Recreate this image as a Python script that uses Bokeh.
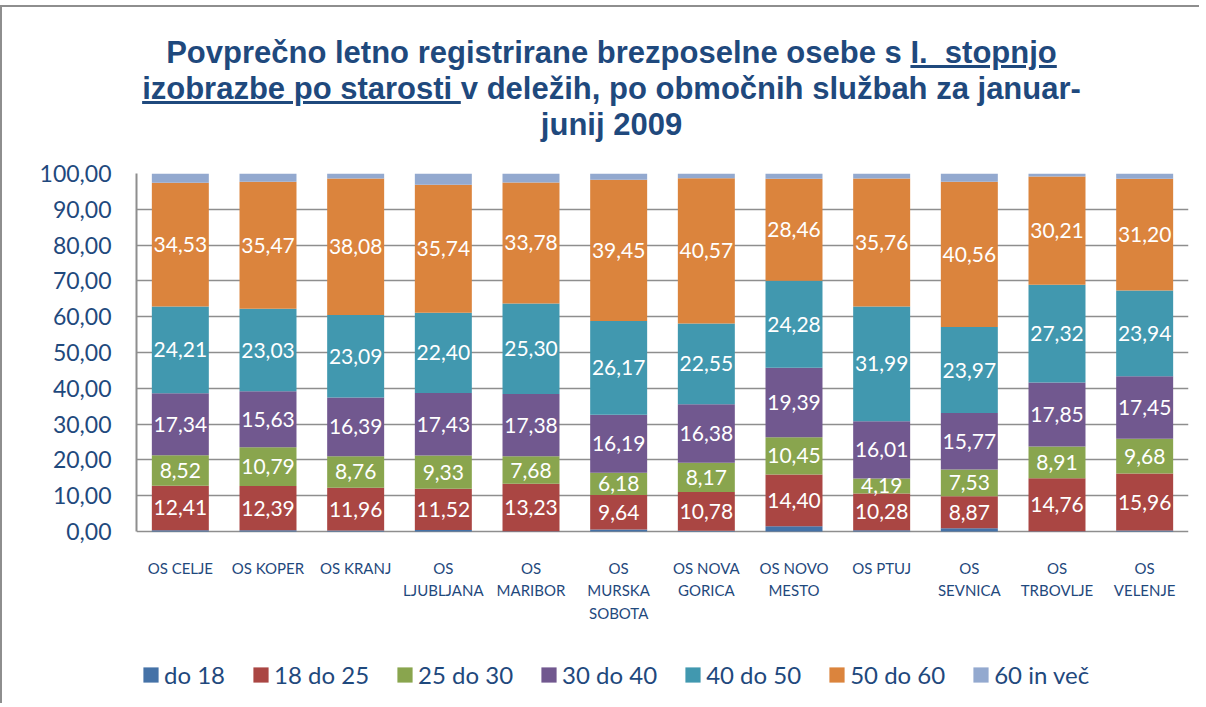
from bokeh.plotting import figure
from bokeh.models import (ColumnDataSource, FactorRange, LabelSet, Legend, LegendItem,
                          FixedTicker, Div, Range1d)
from bokeh.layouts import column
from bokeh.embed import file_html
from bokeh.resources import INLINE
from bokeh.core.properties import value

categories = ["OS CELJE", "OS KOPER", "OS KRANJ", "OS LJUBLJANA", "OS MARIBOR",
              "OS MURSKA SOBOTA", "OS NOVA GORICA", "OS NOVO MESTO", "OS PTUJ",
              "OS SEVNICA", "OS TRBOVLJE", "OS VELENJE"]
category_labels = ["OS CELJE", "OS KOPER", "OS KRANJ", "OS\nLJUBLJANA", "OS\nMARIBOR",
                   "OS\nMURSKA\nSOBOTA", "OS NOVA\nGORICA", "OS NOVO\nMESTO", "OS PTUJ",
                   "OS\nSEVNICA", "OS\nTRBOVLJE", "OS\nVELENJE"]

series_names = ["do 18", "18 do 25", "25 do 30", "30 do 40", "40 do 50", "50 do 60", "60 in več"]

do_18 = [0.39, 0.36, 0.32, 0.42, 0.12, 0.60, 0.25, 1.53, 0.37, 0.97, 0.11, 0.28]
s18_25 = [12.41, 12.39, 11.96, 11.52, 13.23, 9.64, 10.78, 14.40, 10.28, 8.87, 14.76, 15.96]
s25_30 = [8.52, 10.79, 8.76, 9.33, 7.68, 6.18, 8.17, 10.45, 4.19, 7.53, 8.91, 9.68]
s30_40 = [17.34, 15.63, 16.39, 17.43, 17.38, 16.19, 16.38, 19.39, 16.01, 15.77, 17.85, 17.45]
s40_50 = [24.21, 23.03, 23.09, 22.40, 25.30, 26.17, 22.55, 24.28, 31.99, 23.97, 27.32, 23.94]
s50_60 = [34.53, 35.47, 38.08, 35.74, 33.78, 39.45, 40.57, 28.46, 35.76, 40.56, 30.21, 31.20]
s60_plus = [2.60, 2.33, 1.40, 3.16, 2.51, 1.77, 1.30, 1.49, 1.40, 2.33, 0.84, 1.49]

y_ticks = [0, 10, 20, 30, 40, 50, 60, 70, 80, 90, 100]

colors = ["#4572A7", "#AA4643", "#89A54E", "#71588F", "#4198AF", "#DB843D", "#93A9CF"]
text_blue = "#1F497D"
grid_gray = "#8e8e8e"

all_series = [do_18, s18_25, s25_30, s30_40, s40_50, s50_60, s60_plus]
keys = ["s%d" % i for i in range(len(all_series))]
data = {"cat": categories}
for k, s in zip(keys, all_series):
    data[k] = s
source = ColumnDataSource(data)

# frame extends below zero to hold the category labels and the legend
p = figure(x_range=FactorRange(*categories, range_padding=0), y_range=Range1d(-48.0, 100),
           frame_width=1052, frame_height=530,
           min_border_left=134, min_border_top=21, min_border_right=2, min_border_bottom=0,
           output_backend="svg", toolbar_location=None, background_fill_color="white",
           border_fill_color="white", outline_line_color=None)

renderers = p.vbar_stack(keys, x="cat", width=0.65, color=colors, line_color=None, source=source)

# data labels for the middle series
lx, ly, lt = [], [], []
for ci, cat in enumerate(categories):
    base = 0.0
    for si, s in enumerate(all_series):
        v = s[ci]
        if 1 <= si <= 5:
            lx.append(cat)
            ly.append(base + v / 2.0)
            lt.append(("%.2f" % v).replace(".", ","))
        base += v
lab_src = ColumnDataSource(dict(x=lx, y=ly, t=lt))
p.add_layout(LabelSet(x="x", y="y", text="t", source=lab_src, text_color="white",
                      text_font=value("Lato"), text_font_size="21px",
                      text_align="center", text_baseline="middle"))

# category labels (multi-line), one LabelSet per line
for i in range(3):
    cx, ct = [], []
    for cat, lab in zip(categories, category_labels):
        parts = lab.split("\n")
        if i < len(parts):
            cx.append(cat)
            ct.append(parts[i])
    src = ColumnDataSource(dict(x=cx, y=[0] * len(cx), t=ct))
    p.add_layout(LabelSet(x="x", y="y", text="t", source=src, y_offset=-36 - 22.5 * i,
                          text_color=text_blue, text_font=value("Lato"), text_font_size="15px",
                          text_align="center", text_baseline="middle"))

# axes
p.xaxis.visible = False
p.yaxis.bounds = (0, 100)
p.yaxis.ticker = FixedTicker(ticks=y_ticks)
p.yaxis.major_label_overrides = {t: ("%.2f" % t).replace(".", ",") for t in y_ticks}
p.yaxis.major_label_text_font = "Lato"
p.yaxis.major_label_text_font_size = "23px"
p.yaxis.major_label_text_color = text_blue
p.yaxis.major_label_standoff = 19
p.yaxis.major_tick_line_color = None
p.yaxis.minor_tick_line_color = None
p.yaxis.axis_line_color = grid_gray
p.yaxis.axis_line_width = 2

p.xgrid.grid_line_color = None
p.ygrid.grid_line_color = grid_gray
p.ygrid.grid_line_width = 1.5

legend = Legend(items=[LegendItem(label=n, renderers=[r]) for n, r in zip(series_names, renderers)],
                orientation="horizontal", location=(5, 14),
                glyph_width=19, glyph_height=19, label_standoff=4, spacing=26,
                label_text_font="Lato", label_text_font_size="24px", label_text_color=text_blue,
                padding=0, margin=0, border_line_color=None, background_fill_alpha=0)
p.add_layout(legend, "center")

title_html = (
    '<div style="font-family:\'Liberation Sans\'; font-weight:bold; font-size:31px; '
    'color:#1F497D; text-align:center; line-height:36px; padding-top:23px; '
    'padding-left:22px; width:1187px; box-sizing:border-box;">'
    'Povprečno letno registrirane brezposelne osebe s <u>I.&nbsp; stopnjo</u><br>'
    '<u>izobrazbe po starosti </u>v deležih, po območnih službah za januar-<br>'
    'junij 2009</div>'
)
title = Div(text=title_html, width=1187, height=135)

layout = column(title, p, styles={"border-top": "2px solid #8e8e8e",
                                  "border-left": "2px solid #8e8e8e",
                                  "background-color": "white"},
                margin=(5, 0, 0, 0))

open("out.html", "w").write(file_html(layout, INLINE))
